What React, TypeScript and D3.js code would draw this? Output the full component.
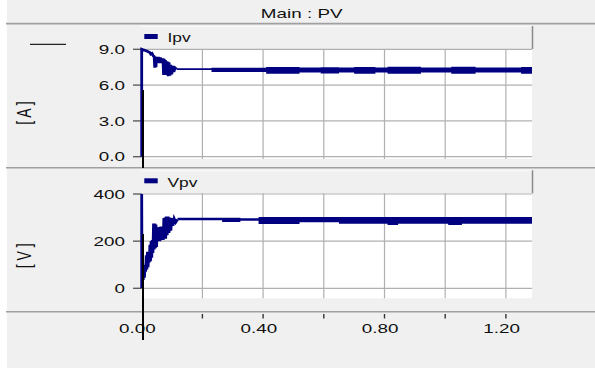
import React from "react";
import * as d3 from "d3";

// ---- data ----
const title = "Main : PV";
const xTicks = [0.2, 0.4, 0.6, 0.8, 1.0, 1.2];
const xTickLabels = ["0.00", "0.40", "0.80", "1.20"];
const xLabelValues = [0, 0.4, 0.8, 1.2];
const xMax = 1.286;

const ipvTicks = [0, 3, 6, 9];
const ipvTickLabels = ["0.0", "3.0", "6.0", "9.0"];
const vpvTicks = [0, 200, 400];
const vpvTickLabels = ["0", "200", "400"];

// transient parts [time s, value]
const ipvTransient: [number, number][] = [
  [0, 0], [0, 9.0], [0.005, 8.95], [0.012, 8.9], [0.02, 8.82], [0.027, 8.72], [0.03, 8.6],
  [0.034, 8.65], [0.038, 8.45], [0.041, 8.4], [0.043, 7.45], [0.045, 8.4], [0.047, 7.5],
  [0.049, 8.35], [0.051, 7.9], [0.055, 8.35], [0.058, 7.85], [0.062, 8.3], [0.066, 7.85],
  [0.07, 8.25], [0.072, 6.85], [0.074, 8.2], [0.076, 6.9], [0.078, 8.1], [0.081, 6.85],
  [0.084, 8.0], [0.087, 6.75], [0.09, 7.9], [0.093, 6.8], [0.096, 7.7], [0.099, 6.9],
  [0.102, 7.6], [0.106, 7.1], [0.11, 7.45], [0.115, 7.35],
];
const vpvTransient: [number, number][] = [
  [0, 0], [0, 400], [0.001, 20], [0.003, 70], [0.005, 35], [0.007, 90], [0.009, 45],
  [0.011, 100], [0.013, 70], [0.015, 140], [0.017, 80], [0.019, 155], [0.021, 90],
  [0.023, 150], [0.025, 110], [0.027, 185], [0.029, 115], [0.031, 200], [0.033, 130],
  [0.035, 205], [0.037, 150], [0.039, 275], [0.041, 165], [0.043, 275], [0.045, 170],
  [0.047, 270], [0.049, 175], [0.051, 255], [0.054, 200], [0.057, 260], [0.06, 200],
  [0.063, 262], [0.066, 205], [0.069, 258], [0.071, 205], [0.073, 298], [0.075, 210],
  [0.077, 300], [0.079, 210], [0.081, 304], [0.084, 225], [0.087, 304], [0.09, 235],
  [0.093, 300], [0.096, 245], [0.099, 298], [0.103, 265], [0.107, 295], [0.112, 280],
  [0.118, 292],
];

// steady-state noise envelopes
const ipvBandT = [0.115, 0.23, 0.41, 0.52, 0.59, 0.65, 0.70, 0.77, 0.81, 0.92, 1.02, 1.10, 1.25, 1.286];
const ipvBandLo = [7.27, 7.10, 6.96, 7.05, 6.98, 7.05, 6.96, 7.05, 6.95, 7.05, 6.95, 7.05, 6.96, 6.96];
const ipvBandHi = [7.42, 7.46, 7.52, 7.47, 7.50, 7.47, 7.52, 7.47, 7.53, 7.47, 7.53, 7.47, 7.52, 7.52];

const vpvBandT = [0.118, 0.265, 0.325, 0.385, 0.52, 0.65, 0.81, 0.845, 1.01, 1.055, 1.286];
const vpvBandLo = [289, 281, 287, 273, 280, 274, 268, 274, 268, 274, 274];
const vpvBandHi = [299, 299, 297, 302, 302, 302, 302, 302, 302, 302, 302];

// ---- style ----
const NAVY = "#000080";
const BG = "#f0f0f0";
const DIV = "#a0a0a0";
const GRID = "#b0b0b0";
const FONT = "'Liberation Sans', Arial, sans-serif";
const SX = 1.45;

function SText(props: { x: number; y: number; size: number; anchor?: string; children: any; rotate?: boolean }) {
  const { x, y, size, anchor = "start", children, rotate } = props;
  return (
    <g transform={`translate(${x},${y}) scale(${SX},1)${rotate ? " rotate(-90)" : ""}`}>
      <text x={0} y={0} fontSize={size} fontFamily={FONT} fill="#111" textAnchor={anchor}>
        {children}
      </text>
    </g>
  );
}

export default function App() {
  const plotL = 141.7;
  const plotR = 532;
  const x = d3.scaleLinear().domain([0, xMax]).range([plotL, plotR]);
  const y1 = d3.scaleLinear().domain([0, 9]).range([156.7, 49.3]);
  const y2 = d3.scaleLinear().domain([0, 400]).range([288.3, 194]);

  const p1Top = 49, p1Bot = 159;
  const p2Top = 193.3, p2Bot = 298.3;

  const band = (t: number[], lo: number[], hi: number[], ys: d3.ScaleLinear<number, number>) =>
    d3
      .area<number>()
      .curve(d3.curveStepAfter)
      .x((i) => x(t[i]))
      .y0((i) => ys(lo[i]))
      .y1((i) => ys(hi[i]))(d3.range(t.length)) || "";

  const line = (pts: [number, number][], ys: d3.ScaleLinear<number, number>) =>
    d3
      .line<[number, number]>()
      .x((d) => x(d[0]))
      .y((d) => ys(d[1]))(pts) || "";

  const panel = (
    top: number,
    bot: number,
    ys: d3.ScaleLinear<number, number>,
    ticks: number[],
    labels: string[],
    legendY: number,
    legendName: string
  ) => (
    <g>
      {/* legend bar */}
      <rect x={140} y={legendY - 8} width={plotR - 140} height={top - legendY + 8} fill={BG} />
      <line x1={140} x2={plotR} y1={legendY - 7.5} y2={legendY - 7.5} stroke="#fafafa" strokeWidth={1} />
      <line x1={plotR + 0.5} x2={plotR + 0.5} y1={legendY - 8} y2={top} stroke="#8a8a8a" strokeWidth={1.5} />
      <rect x={144.3} y={legendY} width={13.4} height={5} fill={NAVY} />
      <SText x={167.5} y={legendY + 8.3} size={12}>{legendName}</SText>
      {/* plot area */}
      <rect x={plotL} y={top} width={plotR - plotL} height={bot - top} fill="#ffffff" />
      {xTicks.map((t) => (
        <line key={t} x1={x(t)} x2={x(t)} y1={top} y2={bot} stroke={GRID} strokeWidth={1.2} />
      ))}
      {ticks.map((v, i) => (
        <g key={v}>
          <line x1={plotL} x2={plotR} y1={ys(v)} y2={ys(v)} stroke={GRID} strokeWidth={1.2} />
          <line x1={133} x2={plotL} y1={ys(v)} y2={ys(v)} stroke="#555" strokeWidth={1.3} />
          <SText x={125} y={ys(v) + 4.7} size={13} anchor="end">{labels[i]}</SText>
        </g>
      ))}
    </g>
  );

  return (
    <svg width={595} height={370} style={{ position: "absolute", left: 0, top: 0 }}>
      <rect x={0} y={0} width={595} height={370} fill="#ffffff" />
      <rect x={7} y={0} width={588} height={368} fill={BG} />
      {/* title */}
      <SText x={301.7} y={18.3} size={13} anchor="middle">{title}</SText>
      <line x1={6} x2={595} y1={23.6} y2={23.6} stroke={DIV} strokeWidth={1.6} />

      {panel(p1Top, p1Bot, y1, ipvTicks, ipvTickLabels, 34, "Ipv")}
      <line x1={6} x2={595} y1={167.7} y2={167.7} stroke={DIV} strokeWidth={1.6} />
      {panel(p2Top, p2Bot, y2, vpvTicks, vpvTickLabels, 178.3, "Vpv")}
      <line x1={6} x2={595} y1={311.7} y2={311.7} stroke={DIV} strokeWidth={1.6} />

      {/* x axis ticks & labels */}
      {xTicks.map((t) => (
        <line key={t} x1={x(t)} x2={x(t)} y1={314} y2={318.5} stroke="#333" strokeWidth={1.4} />
      ))}
      {xLabelValues.map((t, i) => (
        <SText key={t} x={x(t) - 4.3} y={333.3} size={13} anchor="middle">{xTickLabels[i]}</SText>
      ))}

      {/* unit labels */}
      <SText x={31} y={113} size={14} anchor="middle" rotate>[ A ]</SText>
      <SText x={31} y={255.8} size={14} anchor="middle" rotate>[ V ]</SText>
      <line x1={30} x2={66} y1={44.3} y2={44.3} stroke="#222" strokeWidth={1.3} />

      {/* data */}
      <path d={band(ipvBandT, ipvBandLo, ipvBandHi, y1)} fill={NAVY} />
      <path d={line(ipvTransient, y1)} fill="none" stroke={NAVY} strokeWidth={2.8} />
      <path d={band(vpvBandT, vpvBandLo, vpvBandHi, y2)} fill={NAVY} />
      <path d={line(vpvTransient, y2)} fill="none" stroke={NAVY} strokeWidth={2.8} />

      {/* cursor lines */}
      <line x1={143} x2={143} y1={90} y2={168} stroke="#000" strokeWidth={2} />
      <line x1={143} x2={143} y1={234} y2={340} stroke="#000" strokeWidth={2} />
    </svg>
  );
}
